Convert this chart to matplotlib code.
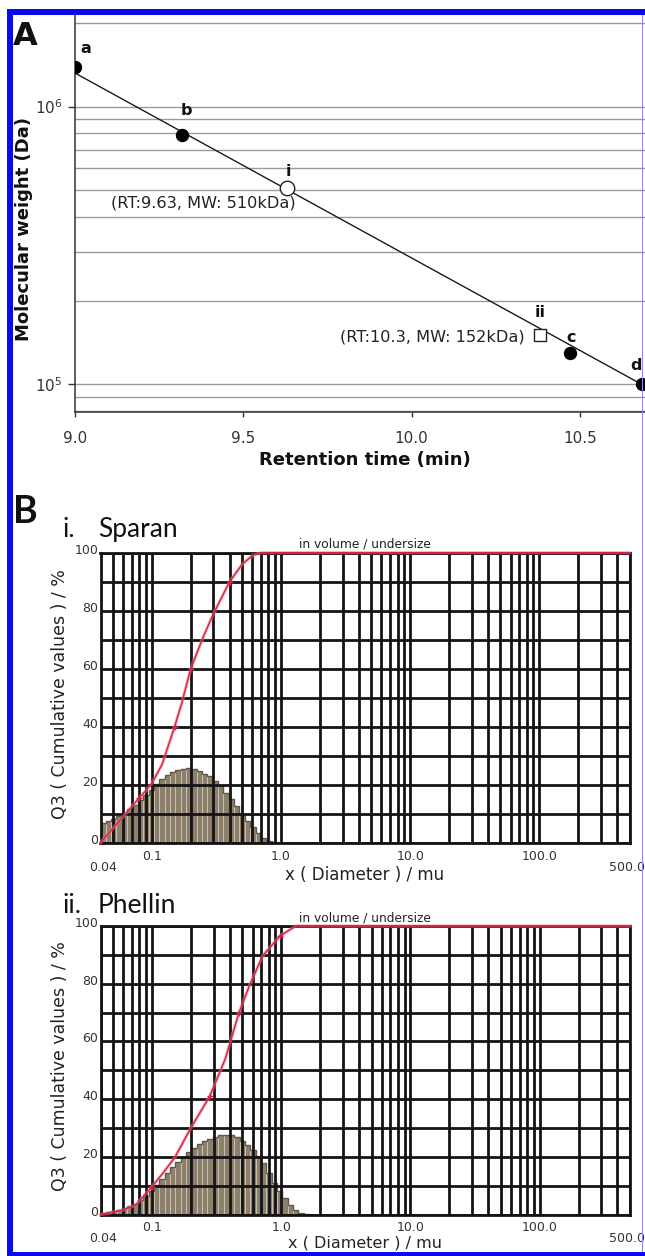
import numpy as np
import matplotlib
matplotlib.use('Agg')
import matplotlib.pyplot as plt
import matplotlib.transforms as mtransforms
from matplotlib.ticker import LogLocator, FixedLocator, NullFormatter
from matplotlib.patches import Rectangle

# ---------------- Panel A data ----------------
std_labels = ['a', 'b', 'c', 'd']
std_rt = [9.0, 9.317, 10.47, 10.683]
std_mw = [1.39e6, 7.9e5, 1.30e5, 1.0e5]
fit_rt = [9.0, 10.683]
fit_mw = [1.32e6, 1.0e5]
sample_labels = ['i', 'ii']
sample_rt = [9.629, 10.381]
sample_mw = [5.1e5, 1.51e5]
sample_notes = ['(RT:9.63, MW: 510kDa)', '(RT:10.3, MW: 152kDa)']
a_xticks = [9.0, 9.5, 10.0, 10.5]
a_xticklabels = ['9.0', '9.5', '10.0', '10.5']

# ---------------- Panel B data ----------------
channels = [0.0400, 0.0440, 0.0484, 0.0532, 0.0586, 0.0644, 0.0709, 0.0780, 0.0858, 0.0943,
            0.1038, 0.1141, 0.1255, 0.1381, 0.1519, 0.1671, 0.1838, 0.2022, 0.2224, 0.2447,
            0.2691, 0.2960, 0.3256, 0.3582, 0.3940, 0.4334, 0.4768, 0.5245, 0.5769, 0.6346,
            0.6981, 0.7679, 0.8447, 0.9292, 1.0221, 1.1243, 1.2368, 1.3604, 1.4965, 1.6461]
sparan_hist = [6.8, 7.5, 8.3, 9.2, 10.3, 11.5, 13.0, 14.7, 16.5, 18.3,
               20.2, 21.8, 23.2, 24.3, 25.0, 25.5, 25.6, 25.3, 24.6, 23.8,
               22.9, 21.4, 19.5, 17.3, 15.0, 12.5, 10.0, 7.6, 5.4, 3.2,
               1.5, 0.5, 0.1, 0, 0, 0, 0, 0, 0]
phellin_hist = [0.5, 0.8, 1.2, 1.6, 2.2, 2.9, 3.8, 5.0, 6.5, 8.2,
                10.2, 12.3, 14.5, 16.5, 18.3, 20.0, 21.6, 23.0, 24.3, 25.4,
                26.3, 27.0, 27.5, 27.6, 27.4, 26.8, 25.6, 24.0, 22.2, 20.3,
                17.8, 14.5, 11.0, 8.0, 5.6, 3.4, 1.6, 0.6, 0.2]
sparan_cum_x = [0.04, 0.05, 0.06, 0.07, 0.08, 0.09, 0.10, 0.12, 0.15, 0.17, 0.20,
                0.25, 0.30, 0.40, 0.50, 0.60, 0.70, 1.0, 500]
sparan_cum_y = [0, 5, 9, 12.5, 15.5, 18, 20.5, 27, 40, 48, 60,
                71, 79, 90, 96, 99, 100, 100, 100]
phellin_cum_x = [0.04, 0.05, 0.06, 0.075, 0.10, 0.12, 0.15, 0.20, 0.28, 0.37,
                 0.47, 0.57, 0.72, 0.98, 1.3, 1.5, 500]
phellin_cum_y = [0, 0.8, 1.6, 3.3, 9.7, 14, 19.7, 30, 41, 54,
                 69.8, 79.5, 89.7, 96.6, 100, 100, 100]
b_xticks = [0.04, 0.1, 1.0, 10.0, 100.0, 500.0]
b_xticklabels = ['0.04', '0.1', '1.0', '10.0', '100.0', '500.0']
b_yticks = [0, 20, 40, 60, 80, 100]
b_yminor = [10, 30, 50, 70, 90]

W, H = 645, 1256
fig = plt.figure(figsize=(W / 100, H / 100), dpi=100)
fig.patch.set_facecolor('white')


def fx(px):
    return px / W


def fy(py):
    return 1 - py / H


def box(l, t, r, b):
    return [fx(l), fy(b), (r - l) / W, (b - t) / H]


# ================= Panel A =================
axA = fig.add_axes(box(75, 12, 645, 411.7))
axA.set_yscale('log')
axA.set_xlim(9.0, 10.693)
axA.set_ylim(7.97e4, 2.19e6)
axA.yaxis.set_major_locator(LogLocator(base=10, numticks=10))
axA.yaxis.set_minor_locator(LogLocator(base=10, subs=np.arange(2, 10), numticks=20))
axA.yaxis.set_minor_formatter(NullFormatter())
axA.grid(True, which='both', axis='y', color='#9a9a9a', lw=1.0)
axA.set_axisbelow(True)
axA.set_xticks(a_xticks)
axA.set_xticklabels(a_xticklabels)
axA.tick_params(axis='x', direction='out', length=3.6, width=1.0, pad=10,
                labelsize=11, labelcolor='#333333', color='#333333')
axA.tick_params(axis='y', which='major', direction='out', length=5, width=1.0, pad=4,
                labelsize=11, labelcolor='#333333', color='#333333')
axA.tick_params(axis='y', which='minor', length=0)
for s in ['top', 'right']:
    axA.spines[s].set_visible(False)
for s in ['left', 'bottom']:
    axA.spines[s].set_color('#333333')
    axA.spines[s].set_linewidth(1.1)

axA.plot(fit_rt, fit_mw, color='#1a1a1a', lw=1.0, zorder=3)
axA.plot(std_rt, std_mw, 'o', ms=8.6, color='black', zorder=4, clip_on=True)
axA.plot(sample_rt[0], sample_mw[0], 'o', ms=10.4, mfc='white', mec='#222222', mew=1.0, zorder=4)
axA.plot(sample_rt[1], sample_mw[1], 's', ms=9.0, mfc='white', mec='#222222', mew=1.0, zorder=4)

std_offsets = [(7.7, 13.5), (3.6, 17.5), (0.7, 10.8), (-4.1, 13.7)]
for lab, x, y, off in zip(std_labels, std_rt, std_mw, std_offsets):
    axA.annotate(lab, (x, y), xytext=off, textcoords='offset points', ha='center', va='center',
                 fontsize=11.5, fontweight='bold', color='#111111', annotation_clip=False)
samp_offsets = [(1.0, 11.5), (0.0, 15.6)]
for lab, x, y, off in zip(sample_labels, sample_rt, sample_mw, samp_offsets):
    axA.annotate(lab, (x, y), xytext=off, textcoords='offset points', ha='center', va='center',
                 fontsize=11.5, fontweight='bold', color='#111111')
note_offsets = [(6.7, -11.0), (-10.8, -1.7)]
for note, x, y, off in zip(sample_notes, sample_rt, sample_mw, note_offsets):
    axA.annotate(note, (x, y), xytext=off, textcoords='offset points', ha='right', va='center',
                 fontsize=11.6, color='#222222')

fig.text(fx(13), fy(45), 'A', fontsize=23, fontweight='bold', ha='left', va='baseline', color='#111111')
fig.text(fx(24), fy(229), 'Molecular weight (Da)', rotation=90, fontsize=13, fontweight='bold',
         ha='center', va='center', color='#111111')
fig.text(fx(365), fy(460), 'Retention time (min)', fontsize=13, fontweight='bold',
         ha='center', va='center', color='#111111')

# ================= Panel B =================
fig.text(fx(13), fy(523), 'B', fontsize=27, fontweight='bold', family='Lato', ha='left', va='baseline', color='#111111')


def dist_panel(rect, hist, cx, cy, title_num, title_name, title_y, xlabel_y, xlabel_size):
    ax = fig.add_axes(rect)
    ax.bar(channels[:-1], hist, width=np.diff(channels), align='edge',
           color='#8c806c', edgecolor='#cfc5b3', linewidth=0.6, zorder=1)
    ax.stairs(hist, channels, color='#62584a', lw=1.0, zorder=1.5)
    ax.set_xscale('log')
    ax.set_xlim(0.04, 500)
    ax.set_ylim(0, 100)
    ax.xaxis.set_major_locator(FixedLocator(b_xticks))
    ax.xaxis.set_minor_locator(LogLocator(base=10, subs=np.arange(1, 10), numticks=30))
    ax.xaxis.set_minor_formatter(NullFormatter())
    ax.set_xticklabels(b_xticklabels)
    ax.yaxis.set_major_locator(FixedLocator(b_yticks))
    ax.yaxis.set_minor_locator(FixedLocator(b_yminor))
    ax.grid(True, which='both', axis='both', color='#141414', lw=2.0)
    ax.set_axisbelow(False)
    ax.tick_params(which='both', length=0)
    ax.tick_params(axis='x', pad=5, labelsize=9, labelcolor='#333333')
    ax.tick_params(axis='y', pad=1.5, labelsize=9, labelcolor='#333333')
    for s in ax.spines.values():
        s.set_color('#141414')
        s.set_linewidth(2.0)
    up = mtransforms.ScaledTranslation(0, 4 / 100, fig.dpi_scale_trans)
    for lab in ax.get_yticklabels():
        lab.set_transform(lab.get_transform() + up)
    xl = ax.get_xticklabels()
    xl[0].set_transform(xl[0].get_transform() +
                        mtransforms.ScaledTranslation(3 / 100, -11 / 100, fig.dpi_scale_trans))
    xl[-1].set_transform(xl[-1].get_transform() +
                         mtransforms.ScaledTranslation(-3 / 100, -11 / 100, fig.dpi_scale_trans))
    ax.plot(cx, cy, color='#f07a8e', lw=2.4, alpha=0.55, zorder=3, clip_on=False)
    ax.plot(cx, cy, color='#d8203f', lw=1.0, zorder=3.1, clip_on=False,
            marker='+', ms=4, mew=1.0, markevery=[4, 8, 10, 13])
    ax.text(0.5, 1.0 + 2 / 290, 'in volume / undersize', transform=ax.transAxes, ha='center', va='bottom',
            fontsize=8.8, color='#222222')
    # titles
    fig.text(fx(62), fy(title_y), title_num, fontsize=19, family='Lato', ha='left', va='baseline', color='#111111')
    fig.text(fx(98), fy(title_y), title_name, fontsize=19, family='Lato', ha='left', va='baseline', color='#111111')
    fig.text(fx(365), fy(xlabel_y), 'x ( Diameter ) / mu', fontsize=xlabel_size, ha='center', va='center',
             color='#222222')
    bb = ax.get_position()
    fig.text(fx(60), bb.y0 + bb.height / 2 + 4 / H, 'Q3 ( Cumulative values ) / %', rotation=90,
             fontsize=12.5, ha='center', va='center', color='#222222')
    return ax


ax1 = dist_panel(box(100.5, 552.7, 629.5, 842.7), sparan_hist, sparan_cum_x, sparan_cum_y,
                 'i.', 'Sparan', 536.7, 875, 12)
ax2 = dist_panel(box(100.5, 926, 630, 1214.5), phellin_hist, phellin_cum_x, phellin_cum_y,
                 'ii.', 'Phellin', 913, 1242.5, 11.5)

# ================= Blue frame =================
blue = '#0a0af0'
for (l, t, r, b) in [(7, 9, 13, 1256), (7, 9, 645, 15), (7, 1251.5, 645, 1256)]:
    fig.add_artist(Rectangle((fx(l), fy(b)), (r - l) / W, (b - t) / H, transform=fig.transFigure,
                             facecolor=blue, edgecolor='none', zorder=10))
fig.add_artist(Rectangle((fx(641.5), fy(1256)), 1.2 / W, (1256 - 9) / H, transform=fig.transFigure,
                         facecolor='#8a8ae0', edgecolor='none', zorder=2))

fig.savefig('out.png', dpi=100, facecolor='white')
